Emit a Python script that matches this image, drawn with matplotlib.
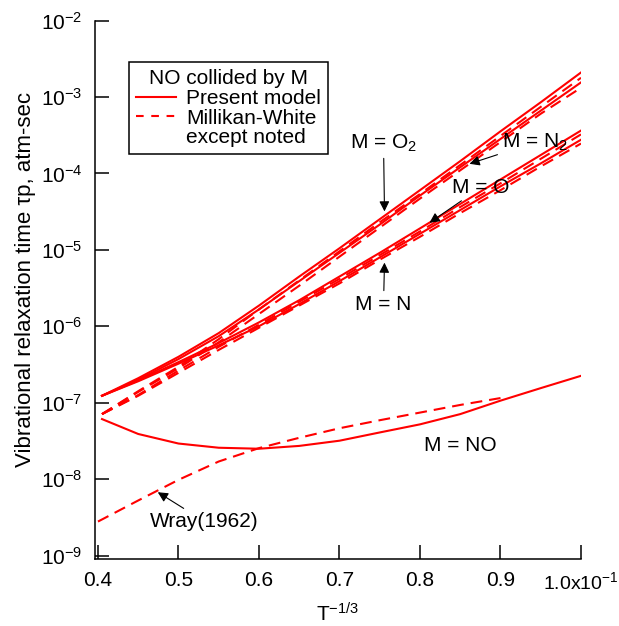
import matplotlib
matplotlib.use('Agg')
import matplotlib.pyplot as plt
import numpy as np
from matplotlib.lines import Line2D
from matplotlib.ticker import FixedLocator, FixedFormatter, NullLocator

plt.rcParams['font.family'] = ['Liberation Sans', 'DejaVu Sans']
plt.rcParams['mathtext.fontset'] = 'custom'
plt.rcParams['mathtext.rm'] = 'Liberation Sans'
plt.rcParams['mathtext.it'] = 'Liberation Sans:italic'
plt.rcParams['mathtext.bf'] = 'Liberation Sans:bold'
plt.rcParams['font.size'] = 15
plt.rcParams['lines.scale_dashes'] = False

# ---------------- data (x = T^-1/3 in units of 1e-1; values are log10 of tau*p) ----------------
x_grid = [0.405, 0.45, 0.5, 0.55, 0.6, 0.65, 0.7, 0.75, 0.8, 0.85, 0.9, 0.95, 1.0]

o2_present_log = [-6.91, -6.68, -6.40, -6.09, -5.73, -5.35, -4.98, -4.60, -4.22, -3.84, -3.45, -3.07, -2.68]
o2_mw_log      = [-7.15, -6.85, -6.53, -6.17, -5.78, -5.40, -5.02, -4.64, -4.27, -3.89, -3.51, -3.13, -2.75]
n2_present_log = [-6.91, -6.70, -6.43, -6.13, -5.78, -5.41, -5.04, -4.67, -4.29, -3.92, -3.55, -3.18, -2.81]
n2_mw_log      = [-7.15, -6.86, -6.55, -6.21, -5.84, -5.47, -5.09, -4.71, -4.33, -3.96, -3.59, -3.22, -2.88]
o_present_log  = [-6.91, -6.71, -6.47, -6.22, -5.95, -5.66, -5.35, -5.04, -4.72, -4.40, -4.08, -3.76, -3.44]
o_mw_log       = [-7.15, -6.90, -6.58, -6.27, -5.98, -5.68, -5.38, -5.07, -4.76, -4.44, -4.13, -3.81, -3.49]
n_present_log  = [-6.91, -6.72, -6.49, -6.25, -6.00, -5.71, -5.41, -5.10, -4.79, -4.48, -4.17, -3.87, -3.56]
n_mw_log       = [-7.15, -6.91, -6.61, -6.31, -6.02, -5.73, -5.44, -5.13, -4.83, -4.52, -4.22, -3.91, -3.61]

no_present_log = [-7.215, -7.41, -7.535, -7.59, -7.603, -7.566, -7.498, -7.39, -7.284, -7.15, -6.974, -6.81, -6.649]
wray_x   = [0.4, 0.45, 0.5, 0.55, 0.6, 0.65, 0.7, 0.75, 0.8, 0.85, 0.9]
wray_log = [-8.556, -8.28, -8.01, -7.77, -7.595, -7.46, -7.335, -7.23, -7.13, -7.03, -6.94]

x_ticks = [0.4, 0.5, 0.6, 0.7, 0.8, 0.9, 1.0]
x_ticklabels = ['0.4', '0.5', '0.6', '0.7', '0.8', '0.9', '1.0x10$^{-1}$']
y_exponents = [-9, -8, -7, -6, -5, -4, -3, -2]

RED = '#ff0000'
LW = 1.5
DASH = (8.5, 5)

fig = plt.figure(figsize=(6.19, 6.26), dpi=100)
ax = fig.add_axes([95/619, 67/626, 486/619, 538.5/626])
ax.set_yscale('log')

def tau(logs):
    return np.power(10.0, np.asarray(logs))

for logs in (o2_present_log, n2_present_log, o_present_log, n_present_log, no_present_log):
    ax.plot(x_grid, tau(logs), color=RED, lw=LW, solid_joinstyle='round')
for logs in (o2_mw_log, n2_mw_log, o_mw_log, n_mw_log):
    ax.plot(x_grid, tau(logs), color=RED, lw=LW, dashes=DASH)
ax.plot(wray_x, tau(wray_log), color=RED, lw=LW, dashes=DASH)

ax.set_xlim(0.3963, 1.0)
ax.set_ylim(9e-10, 1e-2)

ax.xaxis.set_major_locator(FixedLocator(x_ticks))
ax.xaxis.set_major_formatter(FixedFormatter(x_ticklabels))
ax.xaxis.set_minor_locator(NullLocator())
yt = [10.0**e for e in y_exponents]
ax.yaxis.set_major_locator(FixedLocator(yt))
ax.yaxis.set_major_formatter(FixedFormatter(['10$^{%d}$' % e for e in y_exponents]))
ax.yaxis.set_minor_locator(NullLocator())

for s in ('top', 'right'):
    ax.spines[s].set_visible(False)
for s in ('left', 'bottom'):
    ax.spines[s].set_linewidth(1.1)
ax.tick_params(direction='in', length=10, width=1.1, labelsize=15, color='black')
ax.tick_params(axis='y', pad=9)
ax.tick_params(axis='x', pad=9)

ax.set_ylabel('Vibrational relaxation time \u03c4p, atm-sec', fontsize=16)
ax.yaxis.set_label_coords(-0.121, 0.519)
ax.set_xlabel('T$^{-1/3}$', fontsize=15, va='top')
ax.xaxis.set_label_coords(0.5, -0.08)

fig.canvas.draw()
ax.get_xticklabels()[-1].set_fontsize(14)

# annotations
arrow = dict(arrowstyle='-|>', color='black', lw=0.8, shrinkA=1, shrinkB=0, mutation_scale=15)
ax.annotate('M = O$_2$', xy=(0.7559, 10**-4.498), xytext=(0.7547, 10**-3.61),
            ha='center', va='center', arrowprops=arrow)
ax.annotate('M = N$_2$', xy=(0.8615, 10**-3.875), xytext=(0.9422, 10**-3.597),
            ha='center', va='center', arrowprops=arrow)
ax.annotate('M = O', xy=(0.8118, 10**-4.646), xytext=(0.8752, 10**-4.188),
            ha='center', va='center', arrowprops=arrow)
ax.annotate('M = N', xy=(0.7559, 10**-5.168), xytext=(0.7547, 10**-5.713),
            ha='center', va='center', arrowprops=arrow)
ax.text(0.8503, 10**-7.555, 'M = NO', ha='center', va='center')
ax.annotate('Wray(1962)', xy=(0.4743, 10**-8.172), xytext=(0.5323, 10**-8.554),
            ha='center', va='center', arrowprops=arrow)

# legend
h_solid = Line2D([], [], color=RED, lw=LW)
h_dash = Line2D([], [], color=RED, lw=LW, dashes=(5.5, 5.5))
h_none = Line2D([], [], color='none', lw=0)
leg = fig.legend([h_solid, h_dash, h_none], ['Present model', 'Millikan-White', 'except noted'],
                 title='NO collided by M', title_fontsize=15, fontsize=15,
                 loc='upper left', bbox_to_anchor=(129/619, 1 - 62/626), borderaxespad=0,
                 frameon=True, fancybox=False, framealpha=1, edgecolor='black',
                 handlelength=1.92, handletextpad=0.48, labelspacing=0.03, borderpad=0.35)
leg.get_frame().set_linewidth(1.1)

fig.savefig('out.png', dpi=100)
